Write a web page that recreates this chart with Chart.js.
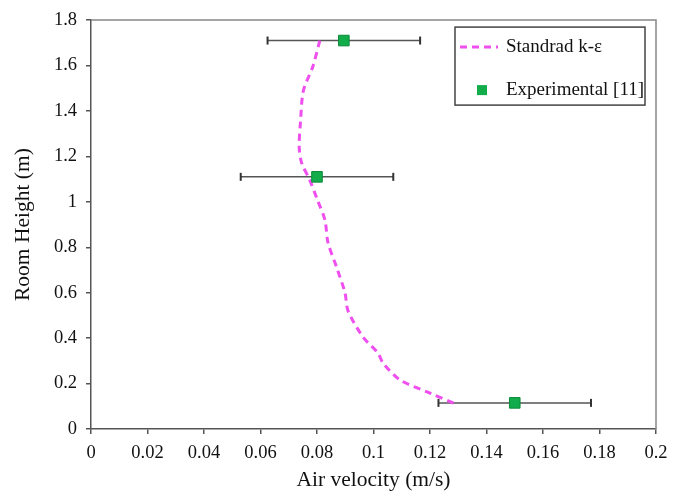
<!DOCTYPE html>
<html><head><meta charset="utf-8">
<script src="https://cdn.jsdelivr.net/npm/chart.js@4"></script>
<style>html,body{margin:0;padding:0;background:#fff}#wrap{width:683px;height:494px}</style>
</head><body><div id="wrap"><canvas id="c" width="683" height="494"></canvas></div>
<script>
// ---- data ----
const modelLabel = 'Standrad k-ε';
const modelVelocity = [0.0810, 0.0785, 0.0752, 0.0742, 0.0737, 0.0746, 0.0773, 0.0801, 0.0828, 0.0839, 0.0870, 0.0899, 0.0910, 0.0963, 0.1016, 0.1034, 0.1094, 0.1200, 0.1290];
const modelHeight   = [1.71, 1.595, 1.49, 1.36, 1.24, 1.17, 1.10, 1.01, 0.92, 0.82, 0.71, 0.60, 0.52, 0.405, 0.334, 0.29, 0.216, 0.158, 0.11];
const expLabel = 'Experimental [11]';
const expVelocity = [0.0895, 0.0800, 0.1500];
const expHeight   = [1.71, 1.11, 0.115];
const expError    = [0.027, 0.027, 0.027];
const xTicks = [0, 0.02, 0.04, 0.06, 0.08, 0.1, 0.12, 0.14, 0.16, 0.18, 0.2];
const yTicks = [0, 0.2, 0.4, 0.6, 0.8, 1, 1.2, 1.4, 1.6, 1.8];
const xTitle = 'Air velocity (m/s)';
const yTitle = 'Room Height (m)';

const FONT = "'Liberation Serif', 'Times New Roman', serif";
const PINK = '#ee4fee';
const GREEN = '#12ad4a';
const AXIS = '#555';

const datasets = [];
datasets.push({
  label: expLabel,
  data: expVelocity.map((v, i) => ({x: v, y: expHeight[i]})),
  showLine: false,
  pointStyle: 'rect',
  pointRadius: 7.5,
  backgroundColor: GREEN,
  borderColor: '#0e8a3a',
  borderWidth: 1
});
datasets.push({
  label: modelLabel,
  data: modelVelocity.map((v, i) => ({x: v, y: modelHeight[i]})),
  showLine: true,
  pointRadius: 0,
  borderColor: PINK,
  borderWidth: 3,
  borderDash: [7, 5],
  tension: 0.3,
  fill: false
});
expVelocity.forEach((v, i) => {
  datasets.push({
    label: 'err' + i,
    data: [{x: v - expError[i], y: expHeight[i]}, {x: v + expError[i], y: expHeight[i]}],
    showLine: true,
    borderColor: AXIS,
    borderWidth: 1.5,
    pointStyle: 'line',
    pointRotation: 90,
    pointRadius: 4,
    pointBorderColor: '#333',
    pointBorderWidth: 2,
    fill: false
  });
});

const framePlugin = {
  id: 'frame',
  beforeDatasetsDraw(chart) {
    const {ctx, chartArea: a} = chart;
    ctx.save();
    ctx.strokeStyle = '#888';
    ctx.lineWidth = 1.5;
    ctx.beginPath();
    ctx.moveTo(a.left, a.top); ctx.lineTo(a.right, a.top); ctx.lineTo(a.right, a.bottom);
    ctx.stroke();
    ctx.restore();
  }
};

const legendPlugin = {
  id: 'customLegend',
  afterDraw(chart) {
    const ctx = chart.ctx;
    const a = chart.chartArea;
    const bx = a.right - 201, by = a.top + 7, bw = 190, bh = 78;
    ctx.save();
    ctx.fillStyle = '#fff';
    ctx.fillRect(bx, by, bw, bh);
    ctx.strokeStyle = '#444';
    ctx.lineWidth = 1.5;
    ctx.strokeRect(bx, by, bw, bh);
    const m = chart.data.datasets[1];
    const e = chart.data.datasets[0];
    ctx.strokeStyle = m.borderColor;
    ctx.lineWidth = m.borderWidth;
    ctx.setLineDash(m.borderDash);
    ctx.beginPath();
    ctx.moveTo(bx + 5, by + 20); ctx.lineTo(bx + 43, by + 20);
    ctx.stroke();
    ctx.setLineDash([]);
    ctx.fillStyle = e.backgroundColor;
    ctx.fillRect(bx + 22, by + 58, 10, 10);
    ctx.fillStyle = '#111';
    ctx.font = '19px ' + FONT;
    ctx.textBaseline = 'middle';
    ctx.fillText(m.label, bx + 51, by + 20);
    ctx.fillText(e.label, bx + 51, by + 63);
    ctx.restore();
  }
};

new Chart(document.getElementById('c'), {
  type: 'scatter',
  data: {datasets},
  options: {
    responsive: false,
    animation: false,
    layout: {padding: {top: 20, right: 27, left: 0, bottom: 0}},
    plugins: {legend: {display: false}, tooltip: {enabled: false}},
    scales: {
      x: {
        type: 'linear', min: 0, max: 0.2,
        afterBuildTicks: s => { s.ticks = xTicks.map(v => ({value: v})); },
        afterFit: s => { s.height = 65; },
        ticks: {
          color: '#111', font: {family: FONT, size: 18.5}, padding: 8, maxRotation: 0,
          callback: v => String(Number(v.toFixed(2)))
        },
        grid: {drawOnChartArea: false, drawTicks: true, tickLength: 5, color: AXIS, lineWidth: 1.5},
        border: {display: true, color: AXIS, width: 1.5},
        title: {display: true, text: xTitle, color: '#111', font: {family: FONT, size: 21.5}, padding: {top: 0, bottom: 1}}
      },
      y: {
        type: 'linear', min: 0, max: 1.8,
        afterBuildTicks: s => { s.ticks = yTicks.map(v => ({value: v})); },
        afterFit: s => { s.width = 91; },
        ticks: {
          color: '#111', font: {family: FONT, size: 18.5}, padding: 9,
          callback: v => String(Number(v.toFixed(1)))
        },
        grid: {drawOnChartArea: false, drawTicks: true, tickLength: 5, color: AXIS, lineWidth: 1.5},
        border: {display: true, color: AXIS, width: 1.5},
        title: {display: true, text: yTitle, color: '#111', font: {family: FONT, size: 21.5}, padding: {top: 10, bottom: 0}}
      }
    }
  },
  plugins: [framePlugin, legendPlugin]
});
</script>
</body></html>
